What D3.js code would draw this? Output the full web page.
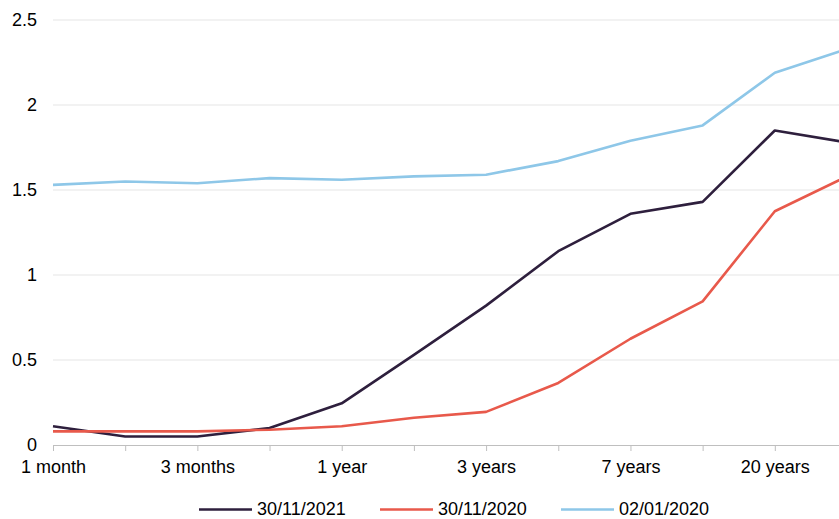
<!DOCTYPE html>
<html>
<head>
<meta charset="utf-8">
<script src="https://cdn.jsdelivr.net/npm/d3@7"></script>
<style>
  body { margin: 0; background: #fff; }
  svg { display: block; font-family: "Liberation Sans", Arial, sans-serif; }
</style>
</head>
<body>
<script>
// categories (maturities)
const categories = ["1 month", "2 months", "3 months", "6 months", "1 year", "2 years",
  "3 years", "5 years", "7 years", "10 years", "20 years", "30 years"];
const shownLabels = ["1 month", "3 months", "1 year", "3 years", "7 years", "20 years"];
const yTicks = [0, 0.5, 1, 1.5, 2, 2.5];

// series values
const s2021 = [0.11, 0.05, 0.05, 0.10, 0.245, 0.53, 0.82, 1.14, 1.36, 1.43, 1.85, 1.78];
const s2020 = [0.08, 0.08, 0.08, 0.09, 0.11, 0.16, 0.195, 0.365, 0.625, 0.845, 1.375, 1.58];
const s2020jan = [1.53, 1.55, 1.54, 1.57, 1.56, 1.58, 1.59, 1.67, 1.79, 1.88, 2.19, 2.33];

const seriesNames = ["30/11/2021", "30/11/2020", "02/01/2020"];
const seriesColors = ["#2e1f3d", "#e8594b", "#8ec7e8"];
const series = [s2021, s2020, s2020jan];

const W = 839, H = 519;

const svg = d3.select("body").append("svg")
  .attr("width", W)
  .attr("height", H);

//scales
const x = d3.scalePoint().domain(categories).range([53, 847]);
const y = d3.scaleLinear().domain([0, 2.5]).range([445, 20]);

//horizontal grid lines
svg.append("g")
  .selectAll("line")
  .data(yTicks.filter(d => d > 0))
  .enter().append("line")
  .attr("x1", 53)
  .attr("x2", W)
  .attr("y1", d => y(d))
  .attr("y2", d => y(d))
  .attr("stroke", "#e5e5e5")
  .attr("stroke-width", 1);

//y axis
const yAxis = svg.append("g")
  .attr("transform", "translate(53,0)")
  .call(d3.axisLeft(y).tickValues(yTicks).tickSize(0).tickPadding(16).tickFormat(d3.format("")));
yAxis.select(".domain").remove();
yAxis.selectAll("text")
  .attr("font-size", 18)
  .attr("fill", "#000")
  .attr("font-family", "Liberation Sans, Arial, sans-serif");

//x axis
const xAxis = svg.append("g")
  .attr("transform", "translate(0," + y(0) + ")")
  .call(d3.axisBottom(x).tickSize(6).tickPadding(9)
    .tickFormat(d => shownLabels.includes(d) ? d : ""));
xAxis.select(".domain")
  .attr("d", "M53,0.5H" + W)
  .attr("stroke", "#bfbfbf");
xAxis.selectAll(".tick line").attr("stroke", "#bfbfbf");
xAxis.selectAll("text")
  .attr("font-size", 18)
  .attr("fill", "#000")
  .attr("font-family", "Liberation Sans, Arial, sans-serif");

//lines
const line = d3.line()
  .x((d, i) => x(categories[i]))
  .y(d => y(d));

svg.append("g")
  .selectAll("path")
  .data(series)
  .enter().append("path")
  .attr("d", line)
  .attr("fill", "none")
  .attr("stroke", (d, i) => seriesColors[i])
  .attr("stroke-width", 2.6)
  .attr("stroke-linejoin", "round");

//legend (kept just inside the bottom edge)
const legendX = [199, 380, 561];
const legend = svg.append("g")
  .selectAll("g")
  .data(seriesNames)
  .enter().append("g")
  .attr("transform", (d, i) => "translate(" + legendX[i] + ",509.5)");

legend.append("line")
  .attr("x1", 0)
  .attr("x2", 53)
  .attr("stroke", (d, i) => seriesColors[i])
  .attr("stroke-width", 2.6);

legend.append("text")
  .attr("x", 58)
  .attr("y", 5.5)
  .attr("font-size", 18)
  .attr("fill", "#000")
  .text(d => d);
</script>
</body>
</html>
